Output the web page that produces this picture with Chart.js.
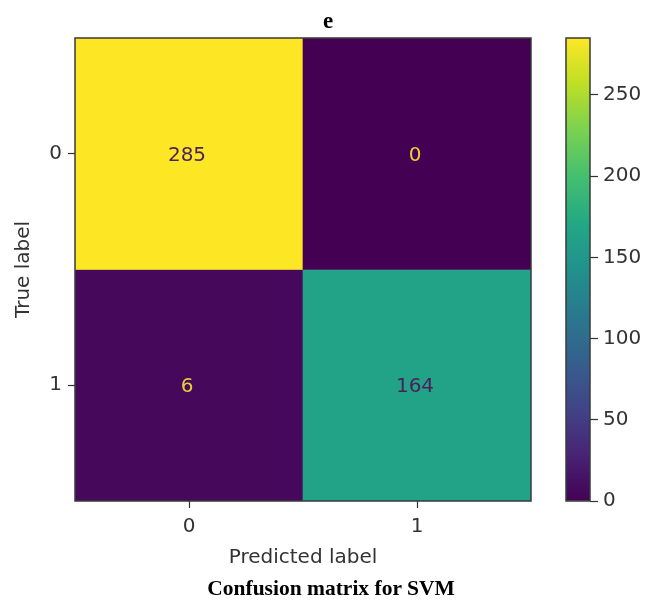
<!DOCTYPE html>
<html lang="en">
<head>
    <meta charset="UTF-8">
    <title>Confusion matrix for SVM</title>
    <script src="https://cdn.jsdelivr.net/npm/chart.js"></script>
    <style>
        body { margin: 0; background: #fff; }
        #wrap { position: relative; width: 646px; height: 604px; }
        #matrixChart { position: absolute; left: 0; top: 0; }
        #barChart { position: absolute; left: 540px; top: 0; }
        .cap { position: absolute; left: 0; width: 646px; text-align: center;
               font-family: "Liberation Serif", "Times New Roman", serif; font-weight: bold; color: #000; }
    </style>
</head>
<body>
<div id="wrap">
    <canvas id="matrixChart" width="646" height="604"></canvas>
    <canvas id="barChart" width="106" height="604"></canvas>
    <div class="cap" style="top:8px; font-size:23px; left:5px;">e</div>
    <div class="cap" style="top:576px; font-size:21.5px; left:8px;">Confusion matrix for SVM</div>
</div>

<script>
    // Confusion matrix values (rows = true label, cols = predicted label)
    const predLabels = ['0', '1'];
    const trueLabels = ['0', '1'];
    const row0 = [285, 0];
    const row1 = [6, 164];
    const matrix = [row0, row1];
    const cbTicks = [0, 50, 100, 150, 200, 250];

    // viridis colour stops
    const viridis = ['#440154', '#482475', '#414487', '#355f8d', '#2a788e', '#21918c',
                     '#22a884', '#44bf70', '#7ad151', '#bddf26', '#fde725'];

    const vMin = 0;
    const vMax = Math.max(...row0, ...row1);

    function hexToRgb(h) {
        return [parseInt(h.slice(1, 3), 16), parseInt(h.slice(3, 5), 16), parseInt(h.slice(5, 7), 16)];
    }
    function viridisAt(t) {
        t = Math.max(0, Math.min(1, t));
        const p = t * (viridis.length - 1);
        const i = Math.min(Math.floor(p), viridis.length - 2);
        const f = p - i;
        const a = hexToRgb(viridis[i]), b = hexToRgb(viridis[i + 1]);
        const c = a.map((v, k) => Math.round(v + (b[k] - v) * f));
        return `rgb(${c[0]}, ${c[1]}, ${c[2]})`;
    }

    const tickFont = { family: 'DejaVu Sans', size: 20 };
    const textColor = '#333';

    // draws the dark frame round the plot area
    const framePlugin = {
        id: 'frame',
        afterDatasetsDraw(chart) {
            const a = chart.chartArea;
            const c = chart.ctx;
            c.save();
            c.strokeStyle = '#3a3a3a';
            c.lineWidth = 1.5;
            c.strokeRect(a.left, a.top, a.right - a.left, a.bottom - a.top);
            c.restore();
        }
    };

    // writes the count in the middle of each cell
    const cellText = {
        id: 'cellText',
        afterDatasetsDraw(chart) {
            const c = chart.ctx;
            c.save();
            c.font = '20px "DejaVu Sans"';
            c.textAlign = 'center';
            c.textBaseline = 'middle';
            chart.data.datasets.forEach((ds, di) => {
                chart.getDatasetMeta(di).data.forEach((bar, j) => {
                    const v = matrix[di][j];
                    c.fillStyle = v < (vMin + vMax) / 2 ? '#e8cf3a' : '#4b1f5c';
                    const mid = (bar.y + bar.base) / 2;
                    c.fillText(String(v), bar.x - 2, mid + 2);
                });
            });
            c.restore();
        }
    };

    new Chart(document.getElementById('matrixChart'), {
        type: 'bar',
        data: {
            labels: predLabels,
            datasets: matrix.map((row, r) => ({
                label: 'True ' + trueLabels[r],
                data: row.map(() => [r - 0.5, r + 0.5]),
                backgroundColor: row.map(v => viridisAt((v - vMin) / (vMax - vMin))),
                borderWidth: 0,
                grouped: false,
                barPercentage: 1,
                categoryPercentage: 1
            }))
        },
        options: {
            responsive: false,
            animation: false,
            layout: { padding: { left: 0, right: 115, top: 38, bottom: 33 } },
            plugins: { legend: { display: false }, tooltip: { enabled: false } },
            scales: {
                x: {
                    grid: { drawOnChartArea: false, offset: false, tickLength: 7, color: '#333', tickWidth: 1.2 },
                    border: { display: false },
                    ticks: { font: tickFont, color: textColor, padding: 7 },
                    title: { display: true, text: 'Predicted label', font: tickFont, color: textColor, padding: { top: 2, bottom: 1 } },
                    afterFit(scale) { scale.height = 70; }
                },
                y: {
                    type: 'linear',
                    min: -0.5,
                    max: 1.5,
                    reverse: true,
                    grid: { drawOnChartArea: false, tickLength: 7, color: '#333', tickWidth: 1.2 },
                    border: { display: false },
                    afterBuildTicks(scale) { scale.ticks = trueLabels.map((_, i) => ({ value: i })); },
                    ticks: { font: tickFont, color: textColor, padding: 6, callback: v => trueLabels[v] },
                    title: { display: true, text: 'True label', font: tickFont, color: textColor, padding: { top: 12, bottom: 0 } },
                    afterFit(scale) { scale.width = 75; }
                }
            }
        },
        plugins: [framePlugin, cellText]
    });

    // colour bar
    new Chart(document.getElementById('barChart'), {
        type: 'bar',
        data: {
            labels: [''],
            datasets: [{
                data: [[vMin, vMax]],
                borderWidth: 0,
                barPercentage: 1,
                categoryPercentage: 1,
                backgroundColor(ctx) {
                    const area = ctx.chart.chartArea;
                    if (!area) return viridis[5];
                    const g = ctx.chart.ctx.createLinearGradient(0, area.bottom, 0, area.top);
                    viridis.forEach((col, i) => g.addColorStop(i / (viridis.length - 1), col));
                    return g;
                }
            }]
        },
        options: {
            responsive: false,
            animation: false,
            layout: { padding: { left: 26, right: 6, top: 38, bottom: 103 } },
            plugins: { legend: { display: false }, tooltip: { enabled: false } },
            scales: {
                x: { display: false },
                y: {
                    position: 'right',
                    min: vMin,
                    max: vMax,
                    grid: { drawOnChartArea: false, tickLength: 8, color: '#333', tickWidth: 1.2 },
                    border: { display: false },
                    afterBuildTicks(scale) { scale.ticks = cbTicks.map(v => ({ value: v })); },
                    ticks: { font: tickFont, color: textColor, padding: 5 },
                    afterFit(scale) { scale.width = 50; }
                }
            }
        },
        plugins: [framePlugin]
    });
</script>
</body>
</html>
